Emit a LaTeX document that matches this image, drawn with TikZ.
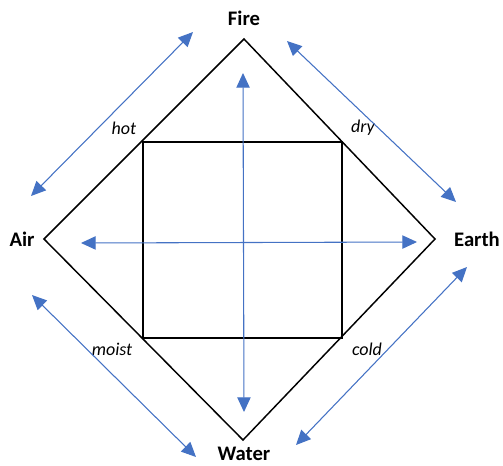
\documentclass[tikz,border=0pt]{standalone}
\usepackage{fontspec}
\setmainfont{Carlito}
\usetikzlibrary{arrows.meta}
\definecolor{linkblue}{HTML}{4472C4}

\begin{document}
\begin{tikzpicture}[x=0.75pt,y=-0.75pt,
    edge/.style={line width=1.1pt,black},
    link/.style={linkblue,line width=0.8pt,{Triangle[length=11pt,width=10pt]}-{Triangle[length=11pt,width=10pt]}},
    element/.style={font=\bfseries\fontsize{15.5}{17}\selectfont},
    quality/.style={font=\itshape\fontsize{13.5}{15}\selectfont}]
    \useasboundingbox (0,0) rectangle (503,465);
    % corners of the diamond and the square
    \coordinate (top) at (244,39);
    \coordinate (right) at (435,239);
    \coordinate (bottom) at (243,440);
    \coordinate (left) at (44,239);
    \coordinate (sqa) at (143,142);
    \coordinate (sqb) at (342,338);
    \draw[edge] (top) -- (right) -- (bottom) -- (left) -- cycle;
    \draw[edge] (sqa) rectangle (sqb);
    % the four elements
    \node[element] (fire) at (244,18) {Fire};
    \node[element] (air) at (22,239) {Air};
    \node[element] (earth) at (477,239) {Earth};
    \node[element] (water) at (244,454) {Water};
    % the four qualities
    \node[quality] (hot) at (124,128) {hot};
    \node[quality] (dry) at (363,128) {dry};
    \node[quality] (moist) at (112,349) {moist};
    \node[quality] (cold) at (367,349) {cold};
    % ends of the arrows
    \coordinate (nup) at (243,73);
    \coordinate (ndown) at (244,412);
    \coordinate (wleft) at (81,243);
    \coordinate (eright) at (417,242);
    \coordinate (a1) at (31,196);
    \coordinate (f1) at (193,32);
    \coordinate (f2) at (287,41);
    \coordinate (e1) at (456,202);
    \coordinate (a2) at (32,295);
    \coordinate (w1) at (196,457);
    \coordinate (e2) at (467,267);
    \coordinate (w2) at (296,445);
    \draw[link] (nup) -- (ndown);
    \draw[link] (wleft) -- (eright);
    \draw[link] (a1) -- (f1);
    \draw[link] (f2) -- (e1);
    \draw[link] (a2) -- (w1);
    \draw[link] (e2) -- (w2);
\end{tikzpicture}
\end{document}
